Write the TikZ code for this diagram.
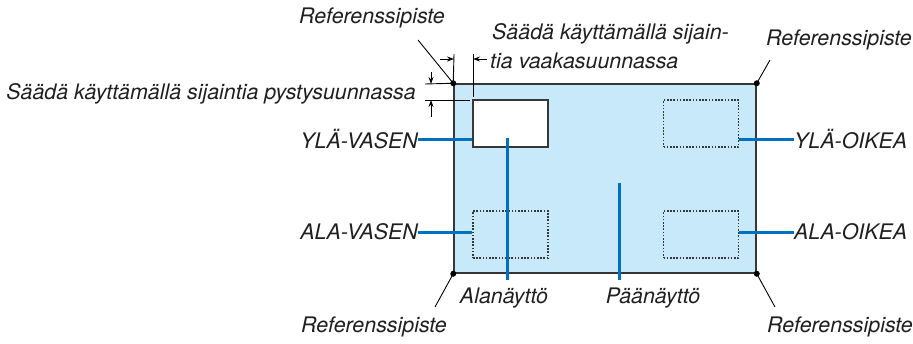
\documentclass[tikz,border=0pt]{standalone}
\usepackage{fontspec}
\setmainfont{TeX Gyre Heros}
\usepackage{tikz}
\usetikzlibrary{arrows.meta, positioning}
\definecolor{screenblue}{RGB}{200,233,249}
\definecolor{leaderblue}{RGB}{0,112,192}
\definecolor{edgegray}{RGB}{55,55,55}
\tikzset{
    every picture/.style={/utils/exec={\fontsize{21.4}{25}\selectfont\itshape}},
    screen/.style={draw=edgegray, line width=1.5pt, inner sep=0pt},
    subbox/.style={draw=edgegray, line width=1.5pt, fill=white, inner sep=0pt, minimum width=75pt, minimum height=47pt},
    slotbox/.style={draw=edgegray, line width=1.3pt, dash pattern=on 1.6pt off 1.6pt, inner sep=0pt, minimum width=75pt, minimum height=47pt},
    caption/.style={inner sep=0pt, text=black!88},
    callout/.style={draw=leaderblue, line width=3pt},
    leader/.style={draw=black, line width=0.9pt},
    refdot/.style={circle, fill=black, inner sep=0pt, minimum size=6pt},
}

\begin{document}
\begin{tikzpicture}[x=1pt, y=-1pt, >={Stealth[length=7pt, width=5pt]}]
        \useasboundingbox (0,0) rectangle (913,343);

        % Screens
        \node[screen, fill=screenblue, minimum width=302pt, minimum height=189pt] (main) at (605,178.5) {};
        \node[subbox] (sub) at (510.5,123.5) {};
        \node[slotbox] (ur) at (701,123.5) {};
        \node[slotbox] (ll) at (510.5,234.5) {};
        \node[slotbox] (lr) at (701,234.5) {};

        % Reference points
        \node[refdot] (tl) at (main.north west) {};
        \node[refdot] (tr) at (main.north east) {};
        \node[refdot] (bl) at (main.south west) {};
        \node[refdot] (br) at (main.south east) {};

        % Labels
        \node[caption] (reftl) at (372,18) {Referenssipiste};
        \node[caption] (reftr) at (839,40) {Referenssipiste};
        \node[caption] (refbl) at (374,327) {Referenssipiste};
        \node[caption] (refbr) at (840,327) {Referenssipiste};
        \node[caption, anchor=east] (pysty) at (416,94) {Säädä käyttämällä sijaintia pystysuunnassa};
        \node[caption, anchor=west] (vaaka1) at (492,34) {Säädä käyttämällä sijain-};
        \node[caption, anchor=west] (vaaka2) at (490,61) {tia vaakasuunnassa};
        \node[caption, anchor=east] (ylv) at (418,139) {YLÄ-VASEN};
        \node[caption, anchor=east] (alv) at (418,232) {ALA-VASEN};
        \node[caption, anchor=west] (ylo) at (794,139) {YLÄ-OIKEA};
        \node[caption, anchor=west] (alo) at (794,232) {ALA-OIKEA};
        \node[caption] (alan) at (504,298) {Alanäyttö};
        \node[caption] (paan) at (653,298) {Päänäyttö};

        % Leader lines to reference points
        \coordinate (ltl) at (418,40);
        \coordinate (ltr) at (770,60);
        \coordinate (lbl) at (435,307);
        \coordinate (lbr) at (775,307);
        \draw[leader] (ltl) -- (tl.center);
        \draw[leader] (ltr) -- (tr.center);
        \draw[leader] (lbl) -- (bl.center);
        \draw[leader] (lbr) -- (br.center);

        % Dimension lines
        \coordinate (hx1) at (454,54);
        \coordinate (hx2) at (473,54);
        \draw[leader] (hx1) -- (tl.center);
        \draw[leader] (hx2) -- (473,97);
        \draw[leader, ->] (440,59) -- (454,59);
        \draw[leader, ->] (487,59) -- (473,59);
        \coordinate (vy1) at (425,84);
        \coordinate (vy2) at (425,100);
        \draw[leader] (vy1) -- (tl.center);
        \draw[leader] (vy2) -- (470,100);
        \draw[leader, ->] (431,72) -- (431,84);
        \draw[leader, ->] (431,117) -- (431,100);

        % Callouts
        \coordinate (subtip) at (507,138);
        \coordinate (maintip) at (619,183);
        \draw[callout] (ylv.east) -- (ylv.east -| sub.west);
        \draw[callout] (alv.east) -- (alv.east -| ll.west);
        \draw[callout] (ylo.west) -- (ylo.west -| ur.east);
        \draw[callout] (alo.west) -- (alo.west -| lr.east);
        \draw[callout] (subtip) -- (507,280);
        \draw[callout] (maintip) -- (619,280);
    \end{tikzpicture}
\end{document}
